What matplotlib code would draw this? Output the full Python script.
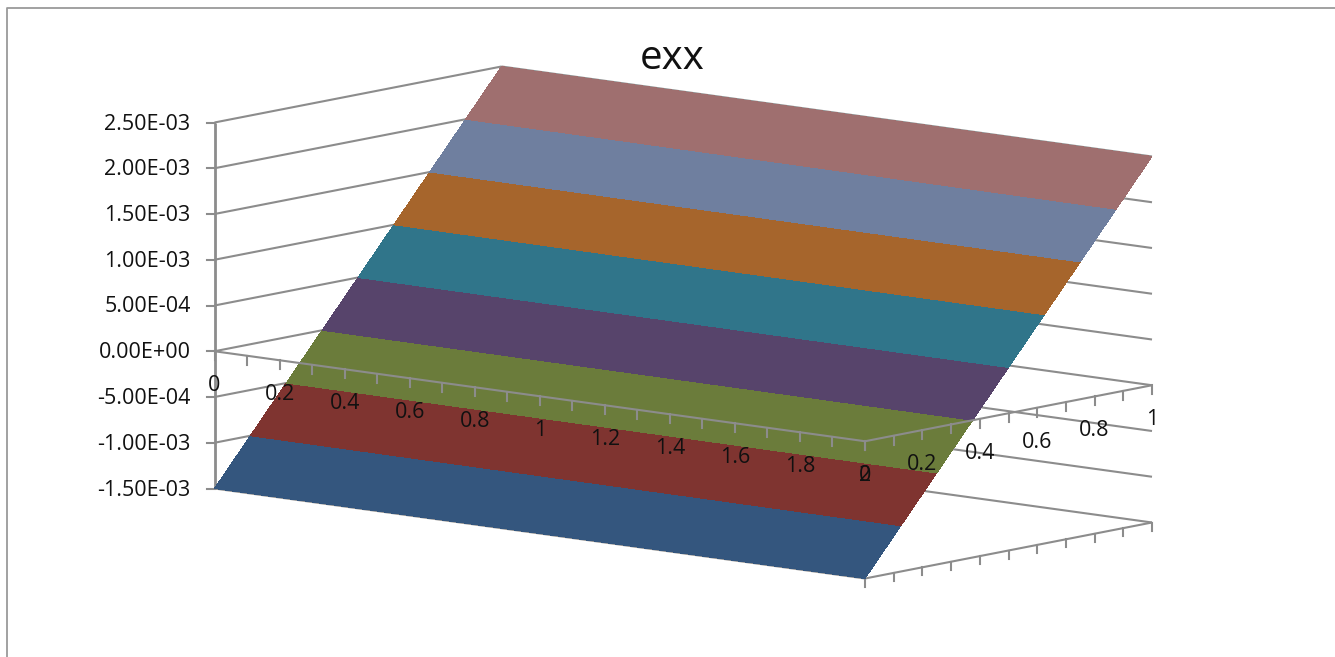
import matplotlib
matplotlib.use("Agg")
import matplotlib.pyplot as plt
import numpy as np

plt.rcParams['font.family'] = ['Open Sans', 'DejaVu Sans']

# Strain field exx sampled over the plate
x_grid = [0.0, 2.0]
y_grid = [0.0, 0.5, 1.0]
exx = [[-1.5e-3, -1.5e-3],
       [0.5e-3, 0.5e-3],
       [2.5e-3, 2.5e-3]]

levels = [-1.5e-3, -1.0e-3, -0.5e-3, 0.0, 0.5e-3, 1.0e-3, 1.5e-3, 2.0e-3, 2.5e-3]
level_labels = ['-1.50E-03', '-1.00E-03', '-5.00E-04', '0.00E+00', '5.00E-04',
                '1.00E-03', '1.50E-03', '2.00E-03', '2.50E-03']
band_colors = ['#34567E', '#7F3430', '#6B7C3B', '#57446B',
               '#30758A', '#A6652C', '#6F7F9F', '#9F6F6F']
x_ticks = [0.1 * i for i in range(21)]
x_tick_labels = ['0', '0.2', '0.4', '0.6', '0.8', '1', '1.2', '1.4', '1.6', '1.8', '2']
y_ticks = [0.1 * i for i in range(11)]
y_tick_labels = ['0', '0.2', '0.4', '0.6', '0.8', '1']

GRID = '#8C8C8C'
TEXT = '#111111'
LABEL_SIZE = 15.5


def project(x, y, z):
    """Oblique projection from (x, y, strain) to figure pixels."""
    x, y, z = np.asarray(x, float), np.asarray(y, float), np.asarray(z, float)
    sx = 214.5 + 325.25 * x + 287.0 * y
    sy = 488.5 + 45.0 * x - 56.0 * y - (z + 1.5e-3) * 91500.0
    return sx, sy


def seg(ax, p, q, lw=1.5, zorder=1):
    sp, sq = project(*p), project(*q)
    ax.plot([sp[0], sq[0]], [sp[1], sq[1]], color=GRID, lw=lw, zorder=zorder,
            solid_capstyle='butt')


fig = plt.figure(figsize=(13.35, 6.57), dpi=100, facecolor='white')
ax = fig.add_axes([0, 0, 1, 1])
ax.set_xlim(0, 1335)
ax.set_ylim(657, 0)
ax.axis('off')

# Chart frame, running off the right and bottom edges
ax.plot([7, 7, 1335], [657, 8, 8], color='#9A9A9A', lw=1.3, zorder=1)

zmin, zmax = levels[0], levels[-1]

# Side wall and back wall gridlines
for z in levels:
    seg(ax, (0, 0, z), (0, 1, z))
    seg(ax, (0, 1, z), (2, 1, z))

# Vertical axis with its tick marks and labels
seg(ax, (0, 0, zmin), (0, 0, zmax), lw=2.0)
for z, label in zip(levels, level_labels):
    sx, sy = project(0, 0, z)
    ax.plot([sx - 8, sx], [sy, sy], color=GRID, lw=1.5, zorder=1)
    ax.text(sx - 24, sy + 1.5, label, ha='right', va='center', fontsize=LABEL_SIZE,
            color=TEXT, zorder=6)

# Floor edges
seg(ax, (0, 0, zmin), (2, 0, zmin))
seg(ax, (2, 0, zmin), (2, 1, zmin))
for y in y_ticks:
    sx, sy = project(2, y, zmin)
    ax.plot([sx, sx], [sy, sy + 8], color=GRID, lw=1.5, zorder=1)

# Surface bands, one filled contour per strain interval
X, Y = np.meshgrid(x_grid, y_grid)
SX, SY = project(X, Y, np.array(exx))
ax.contourf(SX, SY, np.array(exx), levels=levels, colors=band_colors, zorder=3)

# Axes at zero strain lie over the surface
seg(ax, (0, 0, 0), (2, 0, 0), zorder=4)
seg(ax, (2, 0, 0), (2, 1, 0), zorder=4)
for x in x_ticks:
    sx, sy = project(x, 0, 0)
    ax.plot([sx, sx], [sy, sy + 9], color=GRID, lw=1.5, zorder=4)
for y in y_ticks:
    sx, sy = project(2, y, 0)
    ax.plot([sx, sx], [sy, sy + 9], color=GRID, lw=1.5, zorder=4)

for x, label in zip(x_ticks[::2], x_tick_labels):
    sx, sy = project(x, 0, 0)
    ax.text(sx, sy + 34.5, label, ha='center', va='center', fontsize=LABEL_SIZE,
            color=TEXT, zorder=6)
for y, label in zip(y_ticks[::2], y_tick_labels):
    sx, sy = project(2, y, 0)
    ax.text(sx, sy + 34.5, label, ha='center', va='center', fontsize=LABEL_SIZE,
            color=TEXT, zorder=6)

ax.text(672, 59, 'exx', ha='center', va='center', fontsize=29, color=TEXT, zorder=6)

fig.savefig('out.png', dpi=100, facecolor='white')
